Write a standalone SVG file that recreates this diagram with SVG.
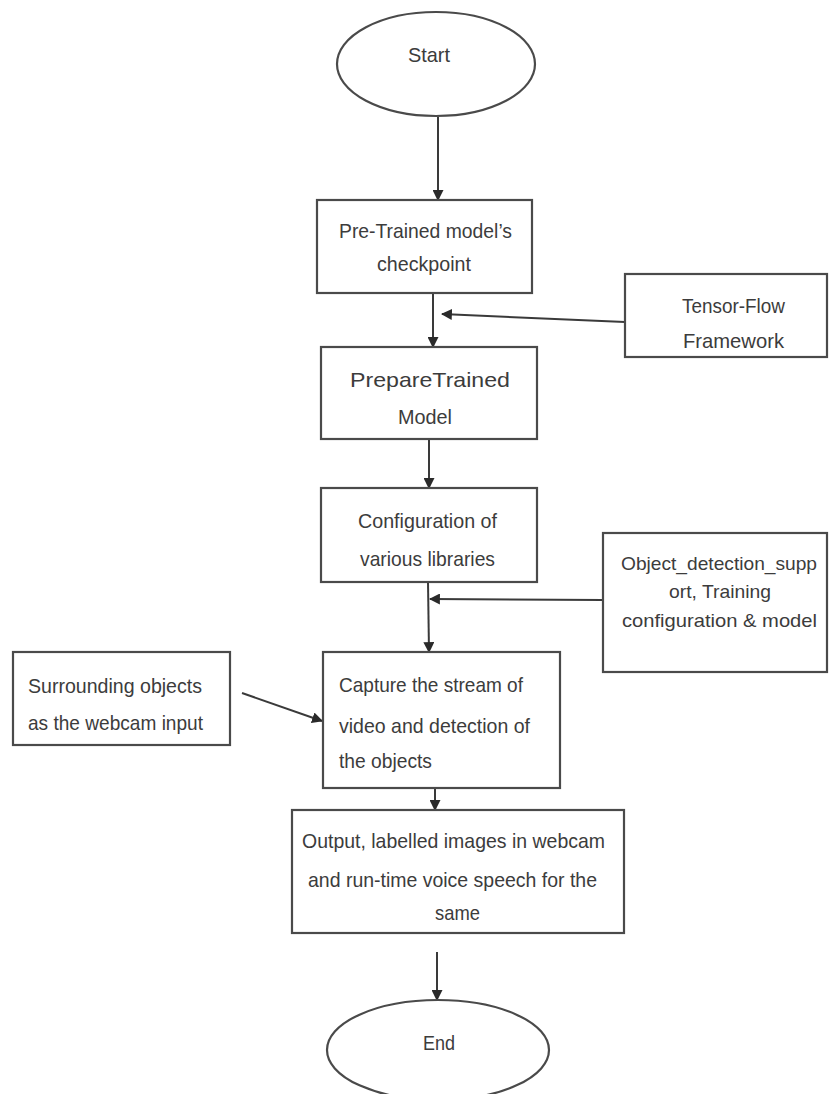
<svg xmlns="http://www.w3.org/2000/svg" width="829" height="1094" viewBox="0 0 829 1094">
<style>
.n{fill:#fff;stroke:#4a4a4a;stroke-width:2.2}
.t{font-family:"Liberation Sans",Arial,sans-serif;font-size:21px;fill:#3c3c3c}
.s{font-size:19px}
.c{stroke:#3a3a3a;stroke-width:2;fill:none}
</style>
<defs>
<marker id="ah" viewBox="0 0 10 10" refX="9" refY="5" markerWidth="5.5" markerHeight="5.5" orient="auto" markerUnits="strokeWidth">
<path d="M0,0 L10,5 L0,10 Z" fill="#2a2a2a"/>
</marker>
</defs>
<rect width="829" height="1094" fill="#fff"/>
<g id="connectors">
<line class="c" x1="438" y1="117" x2="438" y2="200" marker-end="url(#ah)"/>
<line class="c" x1="433" y1="293" x2="433" y2="347" marker-end="url(#ah)"/>
<line class="c" x1="625" y1="322" x2="442" y2="314" marker-end="url(#ah)"/>
<line class="c" x1="429" y1="439" x2="429" y2="488" marker-end="url(#ah)"/>
<line class="c" x1="428" y1="582" x2="429" y2="652" marker-end="url(#ah)"/>
<line class="c" x1="603" y1="600" x2="430" y2="599" marker-end="url(#ah)"/>
<line class="c" x1="242" y1="693" x2="322" y2="721" marker-end="url(#ah)"/>
<line class="c" x1="435" y1="788" x2="435" y2="810" marker-end="url(#ah)"/>
<line class="c" x1="437" y1="952" x2="437" y2="1000" marker-end="url(#ah)"/>
</g>
<g id="start">
<ellipse class="n" cx="436" cy="64" rx="99" ry="52"/>
<text class="t" x="408" y="62" textLength="42" lengthAdjust="spacingAndGlyphs">Start</text>
</g>
<g id="pretrained">
<rect class="n" x="317" y="200" width="215" height="93"/>
<text class="t" x="339" y="238" textLength="173" lengthAdjust="spacingAndGlyphs">Pre-Trained model’s</text>
<text class="t" x="377" y="271" textLength="94" lengthAdjust="spacingAndGlyphs">checkpoint</text>
</g>
<g id="tensorflow">
<rect class="n" x="625" y="274" width="202" height="83"/>
<text class="t" x="682" y="313" textLength="103" lengthAdjust="spacingAndGlyphs">Tensor-Flow</text>
<text class="t" x="683" y="348" textLength="101" lengthAdjust="spacingAndGlyphs">Framework</text>
</g>
<g id="prepare">
<rect class="n" x="321" y="347" width="216" height="92"/>
<text class="t" x="350" y="387" textLength="160" lengthAdjust="spacingAndGlyphs">PrepareTrained</text>
<text class="t" x="398" y="424" textLength="54" lengthAdjust="spacingAndGlyphs">Model</text>
</g>
<g id="configuration">
<rect class="n" x="321" y="488" width="216" height="94"/>
<text class="t" x="358" y="528" textLength="139" lengthAdjust="spacingAndGlyphs">Configuration of</text>
<text class="t" x="360" y="566" textLength="135" lengthAdjust="spacingAndGlyphs">various libraries</text>
</g>
<g id="objectdetection">
<rect class="n" x="603" y="533" width="224" height="139"/>
<text class="t s" x="621" y="570" textLength="196" lengthAdjust="spacingAndGlyphs">Object_detection_supp</text>
<text class="t s" x="669" y="598" textLength="102" lengthAdjust="spacingAndGlyphs">ort, Training</text>
<text class="t s" x="622" y="627" textLength="195" lengthAdjust="spacingAndGlyphs">configuration &amp; model</text>
</g>
<g id="surrounding">
<rect class="n" x="13" y="652" width="217" height="93"/>
<text class="t" x="28" y="693" textLength="174" lengthAdjust="spacingAndGlyphs">Surrounding objects</text>
<text class="t" x="28" y="730" textLength="175" lengthAdjust="spacingAndGlyphs">as the webcam input</text>
</g>
<g id="capture">
<rect class="n" x="323" y="652" width="237" height="136"/>
<text class="t" x="339" y="692" textLength="184" lengthAdjust="spacingAndGlyphs">Capture the stream of</text>
<text class="t" x="339" y="733" textLength="191" lengthAdjust="spacingAndGlyphs">video and detection of</text>
<text class="t" x="339" y="768" textLength="93" lengthAdjust="spacingAndGlyphs">the objects</text>
</g>
<g id="output">
<rect class="n" x="292" y="810" width="332" height="123"/>
<text class="t" x="302" y="848" textLength="303" lengthAdjust="spacingAndGlyphs">Output, labelled images in webcam</text>
<text class="t" x="308" y="887" textLength="289" lengthAdjust="spacingAndGlyphs">and run-time voice speech for the</text>
<text class="t" x="435" y="920" textLength="45" lengthAdjust="spacingAndGlyphs">same</text>
</g>
<g id="end">
<ellipse class="n" cx="438" cy="1050" rx="111" ry="50"/>
<text class="t" x="423" y="1050" textLength="32" lengthAdjust="spacingAndGlyphs">End</text>
</g>
</svg>
